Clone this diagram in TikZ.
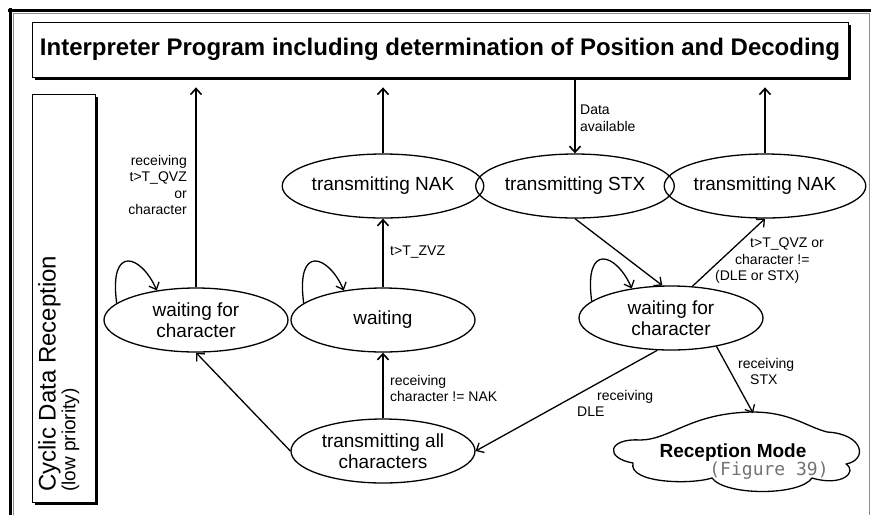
\documentclass[tikz,border=0pt]{standalone}
\usepackage{fontspec}
\setmainfont{Liberation Sans}
\newfontfamily\monof{DejaVu Sans Mono}
\usetikzlibrary{shapes.geometric,arrows.meta,calc}
\begin{document}
\begin{tikzpicture}[x=1pt,y=-1pt,
 state/.style={draw, line width=1.3pt, ellipse, minimum width=184pt, minimum height=64pt, inner sep=0pt, align=center, font=\fontsize{19}{21}\selectfont},
 arr/.style={line width=1.3pt, -{Straight Barb[length=6pt,width=11pt,line width=1.3pt]}},
 varr/.style={line width=1.9pt, -{Straight Barb[length=6pt,width=11pt,line width=1.6pt]}},
 lbl/.style={font=\fontsize{14}{16.5}\selectfont, inner sep=0pt},
 shadowbox/.style={draw, fill=white, line width=0.8pt, inner sep=0pt}]
\useasboundingbox (0,0) rectangle (872,515);
% outer frame
\draw[black!45, line width=0.8pt] (13,515) -- (13,13) -- (869,13) -- (869,515);
\draw[line width=3pt] (8,10) -- (871,10);
\draw[line width=3pt] (10,8) -- (10,515);
% title box
\fill (35,25) rectangle (851,80);
\node[shadowbox, minimum width=816pt, minimum height=55pt, font=\fontsize{24}{26}\selectfont\bfseries] (title) at (440,49.5)
 {Interpreter Program including determination of Position and Decoding};
% left box
\fill (35,97) rectangle (98,505);
\node[shadowbox, minimum width=63pt, minimum height=408pt] (side) at (63.5,298) {};
\node[rotate=90, anchor=north west, align=left, inner sep=0pt] (sidetext) at (38,492)
 {\fontsize{24}{20}\selectfont Cyclic Data Reception\\\fontsize{19}{19}\selectfont (low priority)};
% states
\node[state] (n1) at (383,186) {transmitting NAK};
\node[state] (stx) at (575,186) {transmitting STX};
\node[state] (n2) at (765,186) {transmitting NAK};
\node[state] (wfc1) at (196,320) {waiting for\\character};
\node[state] (w) at (383,320) {waiting};
\node[state] (wfc2) at (671,318) {waiting for\\character};
\node[state] (tac) at (383,451) {transmitting all\\characters};
% cloud
\draw[line width=1.3pt, line join=round]
 (640,440) .. controls (670,440) and (690,413) .. (752,412)
 .. controls (790,412) and (805,426) .. (827,432)
 .. controls (864,434) and (868,460) .. (846,464)
 .. controls (858,472) and (842,487) .. (812,478)
 .. controls (800,496) and (725,496) .. (712,478)
 .. controls (690,485) and (628,483) .. (633,463)
 .. controls (604,458) and (608,438) .. (640,440) -- cycle;
\coordinate (cloudtop) at (753,413);
\node[font=\fontsize{19}{21}\selectfont\bfseries, inner sep=0pt] (rm) at (733,453) {Reception Mode};
\node[font=\fontsize{18}{20}\selectfont\monof, text=black!55, inner sep=0pt] (fig) at (769,471) {(Figure 39)};
% coordinates at the title box
\coordinate (t1) at ($(wfc1.north |- title.south)+(0,10)$);
\coordinate (t2) at ($(n1.north |- title.south)+(0,10)$);
\coordinate (t3) at ($(stx.north |- title.south)+(0,3)$);
\coordinate (t4) at ($(n2.north |- title.south)+(0,10)$);
% vertical arrows
\draw[varr] (wfc1.north) -- (t1);
\draw[varr] (n1.north) -- (t2);
\draw[varr] (t3) -- (stx.north);
\draw[varr] (n2.north) -- (t4);
\draw[varr] (w.north) -- (n1.south);
\draw[varr] (tac.north) -- (w.south);
% diagonal arrows
\draw[arr] (tac.west) -- (wfc1.south);
\draw[arr] (stx.south) -- (wfc2.105);
\draw[arr] (wfc2.56) -- (n2.south);
\draw[arr] (wfc2.247) -- (tac.east);
\draw[arr] (wfc2.328) -- (cloudtop);
% self loops
\draw[arr] (wfc1.168) .. controls +(-8,-60) and +(-15,-35) .. (wfc1.143);
\draw[arr] (w.168) .. controls +(-8,-60) and +(-15,-35) .. (w.143);
\draw[arr] (wfc2.168) .. controls +(-8,-60) and +(-15,-35) .. (wfc2.143);
% labels
\node[lbl, align=right, anchor=north east] (l1) at (187,155) {receiving\\t>T\_QVZ\\or\\character};
\node[lbl, anchor=west] (l2) at (390,252) {t>T\_ZVZ};
\node[lbl, align=left, anchor=north west] (l3) at (580,105) {Data\\available};
\node[lbl, align=left, anchor=north west] (l4) at (390,375) {receiving\\character != NAK};
\node[lbl, align=left, anchor=north west] (l5) at (577,390) {\hspace{20pt}receiving\\DLE};
\node[lbl, align=left, anchor=north west] (l6) at (715,238) {\hspace{35pt}t>T\_QVZ or\\\hspace{20pt}character !=\\(DLE or STX)};
\node[lbl, align=left, anchor=north west] (l7) at (738,358) {receiving\\\hspace{12pt}STX};
\end{tikzpicture}
\end{document}
